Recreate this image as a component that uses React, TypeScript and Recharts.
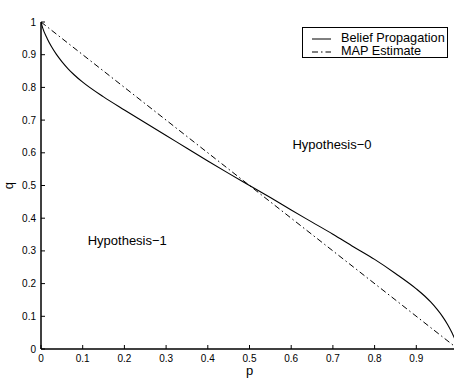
import React from 'react';
import { LineChart, Line, XAxis, YAxis, Legend, ReferenceDot } from 'recharts';

// values
const beliefP = [0, 0.004, 0.015, 0.025, 0.037, 0.05, 0.065, 0.08, 0.1, 0.15, 0.2, 0.25, 0.3, 0.35, 0.4, 0.45, 0.5,
    0.55, 0.6, 0.65, 0.7, 0.75, 0.8, 0.85, 0.9, 0.92, 0.935, 0.95, 0.963, 0.975, 0.985, 0.996, 1];
const beliefQ = [1, 0.982, 0.949, 0.925, 0.901, 0.879, 0.857, 0.838, 0.816, 0.771, 0.731, 0.692, 0.653, 0.614, 0.575, 0.537, 0.5,
    0.463, 0.425, 0.388, 0.351, 0.312, 0.274, 0.231, 0.184, 0.162, 0.143, 0.121, 0.099, 0.075, 0.051, 0.018, 0];
const mapP = [0, 1];
const mapQ = [1, 0];

const xTicks = [0, 0.1, 0.2, 0.3, 0.4, 0.5, 0.6, 0.7, 0.8, 0.9, 1];
const yTicks = [0, 0.1, 0.2, 0.3, 0.4, 0.5, 0.6, 0.7, 0.8, 0.9, 1];

const seriesNames = ['Belief Propagation', 'MAP Estimate'];
const hypothesisNames = ['Hypothesis\u22120', 'Hypothesis\u22121'];
const hypothesisP = [0.603, 0.112];
const hypothesisQ = [0.627, 0.333];

const FONT = '"Liberation Sans", Arial, Helvetica, sans-serif';
const DASH_DOT = '6 3 1.5 3';

const beliefData = beliefP.map((p, i) => ({ p, q: beliefQ[i] }));
const mapData = mapP.map((p, i) => ({ p, q: mapQ[i] }));

const fmt = (v: number) => (v === 0 || v === 1 ? String(v) : v.toFixed(1));

function BottomTick(props: any) {
    const { x, y, payload } = props;
    return (
        <g>
            <line x1={x} x2={x} y1={y} y2={y - 4} stroke="#000" />
            {payload.value < 1 && (
                <text x={x} y={y + 13} textAnchor="middle" fontSize={10} fill="#000">
                    {fmt(payload.value)}
                </text>
            )}
        </g>
    );
}

function LeftTick(props: any) {
    const { x, y, payload } = props;
    return (
        <g>
            <line x1={x} x2={x + 4} y1={y} y2={y} stroke="#000" />
            <text x={x - 5} y={y + 3.5} textAnchor="end" fontSize={10} fill="#000">
                {fmt(payload.value)}
            </text>
        </g>
    );
}

function TopTick(props: any) {
    const { x, y } = props;
    return <line x1={x} x2={x} y1={y} y2={y + 4} stroke="#000" />;
}

function RightTick(props: any) {
    const { x, y } = props;
    return <line x1={x} x2={x - 5} y1={y} y2={y} stroke="#000" />;
}

function QLabel(props: any) {
    const vb = props.viewBox;
    const cx = vb.x + 13;
    const cy = vb.y + vb.height / 2;
    return (
        <text x={cx} y={cy} textAnchor="middle" fontSize={13} fill="#000"
            transform={`rotate(-90 ${cx} ${cy})`}>
            q
        </text>
    );
}

function LegendBox(props: any) {
    const { payload = [] } = props;
    return (
        <div style={{
            boxSizing: 'border-box', width: 146, height: 31, border: '1px solid #000',
            background: '#fff', paddingTop: 4, fontFamily: FONT, fontSize: 12.7, color: '#000',
        }}>
            {payload.map((entry: any, i: number) => (
                <div key={i} style={{
                    display: 'flex', alignItems: 'center', height: 13.4,
                    lineHeight: '13.4px', whiteSpace: 'nowrap',
                }}>
                    <svg width={38} height={10} style={{ flexShrink: 0 }}>
                        <line x1={9} x2={28} y1={5} y2={5} stroke="#000"
                            strokeDasharray={entry.payload?.strokeDasharray} />
                    </svg>
                    <span>{entry.value}</span>
                </div>
            ))}
        </div>
    );
}

export default function App() {
    return (
        <div style={{
            position: 'absolute', left: 0, top: 0, width: 454, height: 383,
            overflow: 'hidden', background: '#fff', fontFamily: FONT,
        }}>
            <LineChart width={461} height={383} margin={{ top: 22, right: 3, bottom: 0, left: 0 }}>
                <XAxis
                    dataKey="p" type="number" domain={[0, 1]} ticks={xTicks} allowDataOverflow
                    height={34} tickSize={0} tickMargin={0} tickLine={false} tick={BottomTick}
                    axisLine={{ stroke: '#000', strokeWidth: 1.5 }}
                    label={{ value: 'p', position: 'insideBottom', offset: 8, fontSize: 13, fill: '#000' }}
                />
                <XAxis
                    xAxisId="t" orientation="top" type="number" domain={[0, 1]} ticks={xTicks}
                    height={0} tickSize={0} tickMargin={0} tickLine={false} tick={TopTick}
                    axisLine={{ stroke: '#000', strokeWidth: 1 }}
                    label={{ value: 'MAP Estimate vs. Consensus', position: 'top', offset: 7, fontSize: 13, fill: '#000' }}
                />
                <YAxis
                    type="number" domain={[0, 1]} ticks={yTicks} allowDataOverflow
                    width={41} tickSize={0} tickMargin={0} tickLine={false} tick={LeftTick}
                    axisLine={{ stroke: '#000', strokeWidth: 1.5 }}
                    label={{ content: QLabel }}
                />
                <YAxis
                    yAxisId="r" orientation="right" type="number" domain={[0, 1]} ticks={yTicks}
                    width={0} tickSize={0} tickMargin={0} tickLine={false} tick={RightTick}
                    axisLine={{ stroke: '#000', strokeWidth: 1 }}
                />
                <Line
                    data={beliefData} dataKey="q" name={seriesNames[0]} type="monotone"
                    stroke="#000" strokeWidth={1.1} dot={false} isAnimationActive={false}
                />
                <Line
                    data={mapData} dataKey="q" name={seriesNames[1]} type="linear"
                    stroke="#000" strokeWidth={1} strokeDasharray={DASH_DOT} dot={false} isAnimationActive={false}
                />
                {hypothesisNames.map((name, i) => (
                    <ReferenceDot
                        key={name} x={hypothesisP[i]} y={hypothesisQ[i]} r={0}
                        fill="none" stroke="none"
                        label={{ value: name, position: 'right', offset: 0, fontSize: 13, fill: '#000' }}
                    />
                ))}
                <Legend
                    layout="horizontal" verticalAlign="middle" align="center"
                    wrapperStyle={{ position: 'absolute', left: 302, top: 27, width: 146, height: 31 }}
                    content={LegendBox}
                />
            </LineChart>
        </div>
    );
}
